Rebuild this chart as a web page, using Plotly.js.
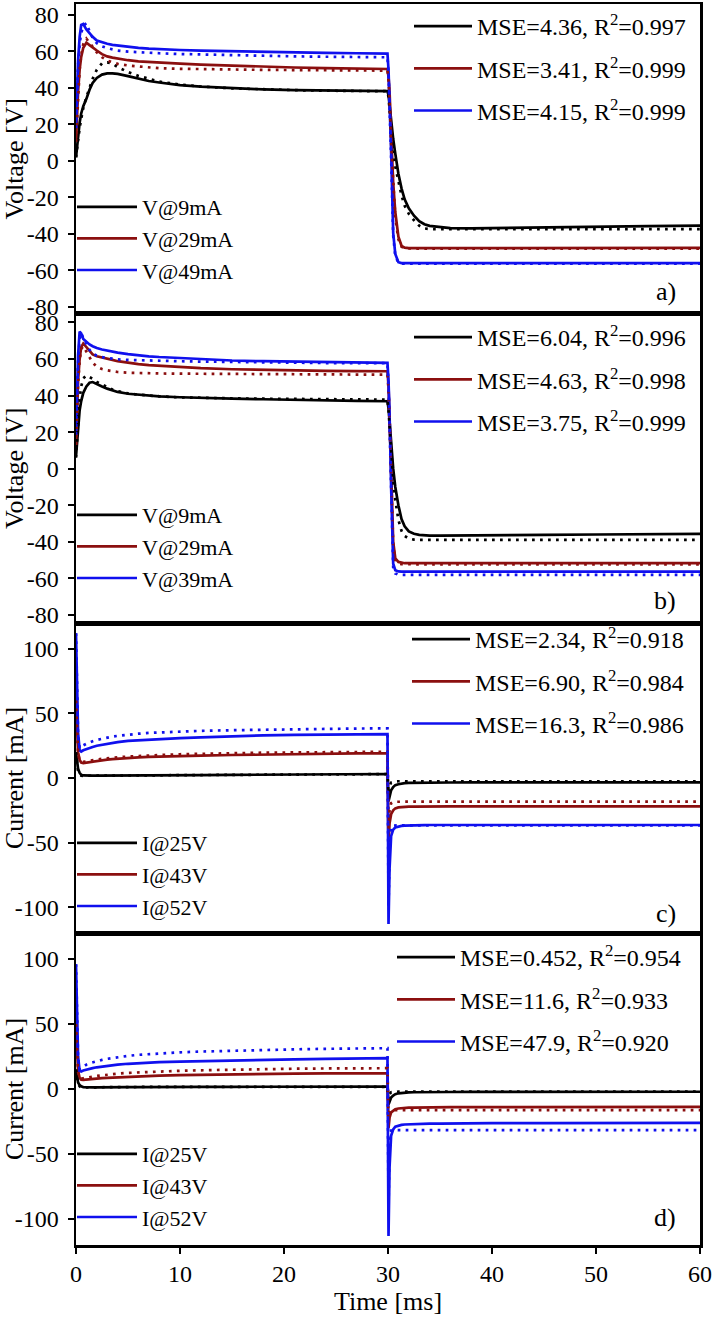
<!DOCTYPE html>
<html><head><meta charset="utf-8">
<script src="https://cdn.plot.ly/plotly-3.0.1.min.js"></script>
<style>html,body{margin:0;padding:0;background:#fff}#chart{width:714px;height:1318px}</style>
</head><body><div id="chart"></div>
<script>
// time grid [ms]
const T = [0,0.1,0.2,0.35,0.5,0.7,1,1.3,1.6,
  2,2.5,3,3.5,4,5,6,7,8,
  10,12,15,18,21,24,27,29.95,
  30.05,30.15,30.3,30.5,30.7,31,31.3,31.6,
  32,32.5,33,33.5,34,35,36,
  38,40,45,50,55,60];

// panel a) voltage, measured (solid) and fitted (dotted)
const aK  = [2,8,14,21,26,30,34,39,42.7, 45.5,47.3,48,48,47.7,46.5,45,43.8,43, 41.5,40.7,39.8,39.2,38.8,38.6,38.4,38.3, 36,30,22,12,4,-7,-15,-21, -26,-30,-33,-34.7,-35.6,-36.4,-36.8, -36.9,-36.8,-36.4,-36,-35.7,-35.4];
const aKf = [2,7,12,18,23,29,35,40,45, 50,53.5,54,53.3,51.5,48.7,46.6,45,43.5, 41.8,40.8,39.8,39.2,38.8,38.5,38.3,38.2, 35,28,18,4,-3,-11,-19,-24.5, -29,-32.5,-35.5,-37,-37.3,-37.4,-37.4, -37.4,-37.4,-37.4,-37.4,-37.4,-37.4];
const aR  = [10.6,25,38,50,57,62,64.8,63.5,62, 60.5,58.5,57.3,56.6,56,55.2,54.6,54.2,53.8, 53.3,52.8,52.2,51.7,51.2,50.9,50.6,50.4, 46,38,15,-12,-28,-41.5,-46.5,-47.5, -47.8,-47.8,-47.8,-47.8,-47.8,-47.8,-47.8, -47.8,-47.8,-47.8,-47.7,-47.7,-47.6];
const aRf = [10.6,24,37,50,58,64,67,65,62.5, 59.5,56.8,55,54,53.2,52.3,51.7,51.2,50.8, 50.5,50.3,50.1,49.9,49.8,49.7,49.6,49.5, 44,34,10,-15,-31,-43,-47,-47.8, -48,-48,-48,-48,-48,-48,-48, -48,-48,-48,-48,-48,-48];
const aB  = [18,38,55,68,74.5,75,72,70,68, 66,65,64.2,63.6,63.2,62.5,62,61.6,61.2, 60.8,60.5,60.1,59.8,59.5,59.2,59,58.8, 50,35,5,-39.5,-51,-55.5,-56,-56, -56,-56,-56,-56,-56,-56,-56, -56,-56,-56,-56,-56,-56];
const aBf = [18,37,52,64,70,74,75.5,71,67.5, 64.5,62.8,61.8,61,60.5,59.9,59.5,59.2,59, 58.6,58.3,58,57.6,57.3,57.1,56.9,56.8, 48,32,2,-41,-52,-55.8,-56.3,-56.3, -56.3,-56.3,-56.3,-56.3,-56.3,-56.3,-56.3, -56.3,-56.3,-56.3,-56.3,-56.3,-56.3];

// panel b) voltage
const bK  = [6.7,14,23,32,37,41.5,45,47,47.4, 46.5,45,43.8,42.8,42,41,40.5,40,39.6, 39.1,38.7,38.3,38,37.6,37.3,37.1,36.9, 33,26,14,0,-10,-20,-27.5,-31.5, -34.3,-35.6,-36.2,-36.5,-36.6,-36.6,-36.6, -36.5,-36.4,-36.2,-36,-35.8,-35.6];
const bKf = [6,15,26,38,45,49.5,51,50.3,49.2, 47.5,46,44.5,43.3,42.5,41.2,40.5,40,39.6, 39,38.7,38.5,38.3,38.1,38,37.9,37.8, 32,22,8,-6,-17,-28,-34,-36.8, -38.2,-38.8,-38.9,-38.9,-38.9,-38.9,-38.9, -38.9,-38.9,-38.9,-38.9,-38.9,-38.9];
const bR  = [13,32,48,60,66.5,68.5,66.5,64.5,62.5, 61.5,60.7,60.2,59.5,58.8,57.8,57.2,56.7,56.3, 55.6,55,54.4,54,53.7,53.5,53.4,53.3, 45,30,0,-40,-49,-51,-51.5,-51.7, -51.7,-51.7,-51.7,-51.7,-51.7,-51.7,-51.7, -51.7,-51.7,-51.7,-51.7,-51.7,-51.7];
const bRf = [13,31,46,59,65.5,67,64,60.5,58, 55.8,54.5,53.8,53.3,52.9,52.5,52.3,52.2,52.1, 52,51.9,51.8,51.7,51.6,51.6,51.5,51.5, 43,27,-3,-42,-50,-51.8,-52.2,-52.3, -52.3,-52.3,-52.3,-52.3,-52.3,-52.3,-52.3, -52.3,-52.3,-52.3,-52.3,-52.3,-52.3];
const bB  = [18.6,42,62,75,74,71,69.3,68,67, 66,65.2,64.5,64,63.5,62.7,62,61.5,61.1, 60.5,60,59.2,58.8,58.5,58.2,58,57.9, 48,30,-10,-52,-55.5,-56.2,-56.3,-56.3, -56.3,-56.3,-56.3,-56.3,-56.3,-56.3,-56.3, -56.3,-56.3,-56.3,-56.3,-56.3,-56.3];
const bBf = [18.6,40,58,71,74.3,71.5,68,65,63, 61.8,61,60.5,60.1,59.8,59.5,59.3,59.1,59, 58.8,58.6,58.3,58.1,57.9,57.8,57.7,57.7, 46,26,-14,-54,-57.3,-58,-58.1,-58.1, -58.1,-58.1,-58.1,-58.1,-58.1,-58.1,-58.1, -58.1,-58.1,-58.1,-58.1,-58.1,-58.1];

// panel c) current
const cK  = [20,12,7,4,2.5,2,1.8,1.8,1.8, 1.8,1.8,1.8,1.8,1.8,1.9,1.9,2,2, 2.1,2.2,2.4,2.6,2.8,2.9,3,3.1, -18,-14,-9.5,-7,-5.5,-4.8,-4.3,-4, -3.8,-3.7,-3.6,-3.6,-3.5,-3.5,-3.5, -3.4,-3.4,-3.4,-3.4,-3.4,-3.4];
const cKf = [20,10,5,2.5,1.8,1.7,1.7,1.7,1.7, 1.7,1.8,1.8,1.8,1.9,1.9,2,2,2.1, 2.2,2.3,2.5,2.7,2.8,2.9,3,3, -12,-6,-3.5,-2.8,-2.6,-2.5,-2.5,-2.5, -2.5,-2.5,-2.5,-2.5,-2.5,-2.5,-2.5, -2.5,-2.5,-2.5,-2.5,-2.5,-2.5];
const cR  = [60,35,20,14,12,11.6,12,12.4,12.8, 13.3,13.8,14.2,14.6,15,15.6,16,16.3,16.6, 17,17.4,17.8,18.2,18.5,18.8,19,19.1, -50,-35,-28,-25,-23.5,-22.8,-22.5,-22.4, -22.2,-22.1,-22,-22,-22,-21.9,-21.9, -21.9,-21.9,-21.9,-21.9,-21.9,-21.9];
const cRf = [60,33,19,13.5,12.5,12.5,13,13.4,13.8, 14.3,14.8,15.3,15.7,16,16.6,17.1,17.5,17.8, 18.4,18.8,19.3,19.6,19.8,20,20.2,20.3, -40,-25,-19.5,-18.6,-18.4,-18.3,-18.3,-18.3, -18.3,-18.3,-18.3,-18.3,-18.3,-18.3,-18.3, -18.3,-18.3,-18.3,-18.3,-18.3,-18.3];
const cB  = [112,70,35,21.5,20.5,21.5,22.5,23.3,24, 25,25.8,26.5,27.2,27.8,28.8,29.3,29.8,30.2, 30.8,31.5,32.4,33,33.4,33.7,34,34, -113,-70,-45,-40,-38.3,-37.5,-37.1,-36.9, -36.7,-36.6,-36.5,-36.5,-36.4,-36.4,-36.4, -36.4,-36.4,-36.4,-36.4,-36.4,-36.4];
const cBf = [112,68,33,23,24,25.3,26.5,27.6,28.5, 29.5,30.5,31.3,32,32.6,33.6,34.3,34.9,35.3, 36,36.5,37,37.4,37.8,38.1,38.3,38.4, -100,-55,-38,-36.8,-36.6,-36.6,-36.6,-36.6, -36.6,-36.6,-36.6,-36.6,-36.6,-36.6,-36.6, -36.6,-36.6,-36.6,-36.6,-36.6,-36.6];

// panel d) current
const dK  = [15,9,5,3,2,1.5,1.3,1.3,1.3, 1.3,1.4,1.4,1.4,1.5,1.5,1.5,1.6,1.6, 1.6,1.7,1.7,1.7,1.8,1.8,1.8,1.8, -12,-9,-6.5,-5,-4,-3.3,-3,-2.8, -2.6,-2.5,-2.4,-2.4,-2.4,-2.3,-2.3, -2.2,-2.2,-2.1,-2.1,-2.1,-2.1];
const dKf = [15,8,4,2,1.2,1.2,1.3,1.3,1.3, 1.3,1.4,1.4,1.4,1.5,1.5,1.5,1.6,1.6, 1.6,1.7,1.7,1.7,1.7,1.7,1.7,1.7, -8,-4,-2.5,-2.2,-2.1,-2,-2,-2, -2,-2,-2,-2,-2,-2,-2, -2,-2,-2,-2,-2,-2];
const dR  = [50,28,14,8.5,7.2,7,7.3,7.6,7.8, 8.1,8.4,8.6,8.8,9,9.5,9.8,10.1,10.3, 10.7,11,11.3,11.6,11.8,12,12.1,12.1, -30,-22,-18,-16.5,-15.5,-15,-14.7,-14.5, -14.4,-14.3,-14.2,-14.1,-14.1,-14,-14, -13.9,-13.9,-13.8,-13.8,-13.7,-13.7];
const dRf = [50,27,13,8.5,8,8.3,8.8,9.2,9.6, 10,10.5,11,11.4,11.8,12.4,12.8,13.2,13.5, 14,14.4,14.9,15.3,15.6,15.8,16,16, -22,-17,-16.3,-16.2,-16.2,-16.2,-16.2,-16.2, -16.2,-16.2,-16.2,-16.2,-16.2,-16.2,-16.2, -16.2,-16.2,-16.2,-16.2,-16.2,-16.2];
const dB  = [96,55,25,14,13.5,14.2,15,15.6,16.1, 16.7,17.3,17.8,18.3,18.7,19.4,19.9,20.3,20.6, 21.1,21.5,21.9,22.4,22.8,23.2,23.5,23.7, -113,-60,-36,-31,-29,-28,-27.6,-27.3, -27.1,-27,-26.8,-26.7,-26.6,-26.6,-26.5, -26.4,-26.3,-26.2,-26.1,-26,-26];
const dBf = [96,53,24,15,16,17.5,18.8,19.8,20.6, 21.5,22.4,23.2,23.9,24.5,25.5,26.3,26.9,27.4, 28.2,28.8,29.5,30,30.5,30.9,31.2,31.4, -90,-40,-32,-31.7,-31.7,-31.7,-31.7,-31.7, -31.7,-31.7,-31.7,-31.7,-31.7,-31.7,-31.7, -31.7,-31.7,-31.7,-31.7,-31.7,-31.7];

// legend texts
const labelsA = ['V@9mA','V@29mA','V@49mA'];
const labelsB = ['V@9mA','V@29mA','V@39mA'];
const labelsC = ['I@25V','I@43V','I@52V'];
const labelsD = ['I@25V','I@43V','I@52V'];
const mseA = ['MSE=4.36, R<sup>2</sup>=0.997','MSE=3.41, R<sup>2</sup>=0.999','MSE=4.15, R<sup>2</sup>=0.999'];
const mseB = ['MSE=6.04, R<sup>2</sup>=0.996','MSE=4.63, R<sup>2</sup>=0.998','MSE=3.75, R<sup>2</sup>=0.999'];
const mseC = ['MSE=2.34, R<sup>2</sup>=0.918','MSE=6.90, R<sup>2</sup>=0.984','MSE=16.3, R<sup>2</sup>=0.986'];
const mseD = ['MSE=0.452, R<sup>2</sup>=0.954','MSE=11.6, R<sup>2</sup>=0.933','MSE=47.9, R<sup>2</sup>=0.920'];
const panelTags = ['a)','b)','c)','d)'];
const xTicks = [0,10,20,30,40,50,60];
const vTicks = [-80,-60,-40,-20,0,20,40,60,80];
const iTicks = [-100,-50,0,50,100];

const COLORS = ['#000000','#8b0f0f','#1010ee'];
const F = 'Liberation Serif, Times New Roman, serif';

const panels = [
  {solid:[aK,aR,aB], fit:[aKf,aRf,aBf], labels:labelsA, mse:mseA},
  {solid:[bK,bR,bB], fit:[bKf,bRf,bBf], labels:labelsB, mse:mseB},
  {solid:[cK,cR,cB], fit:[cKf,cRf,cBf], labels:labelsC, mse:mseC},
  {solid:[dK,dR,dB], fit:[dKf,dRf,dBf], labels:labelsD, mse:mseD}
];

const traces = [];
panels.forEach((p, i) => {
  const sfx = i === 0 ? '' : String(i + 1);
  const xa = 'x' + sfx, ya = 'y' + sfx;
  const lgLab = 'legend' + (i === 0 ? '' : String(2 * i + 1));
  const lgMse = 'legend' + String(2 * i + 2);
  p.solid.forEach((ys, k) => {
    traces.push({type:'scatter', mode:'lines', x:T, y:ys, xaxis:xa, yaxis:ya,
      line:{color:COLORS[k], width:2.7}, name:p.labels[k], legend:lgLab, showlegend:true});
  });
  p.fit.forEach((ys, k) => {
    traces.push({type:'scatter', mode:'lines', x:T, y:ys, xaxis:xa, yaxis:ya,
      line:{color:COLORS[k], width:2.7, dash:'2.7px,5.3px'}, showlegend:false});
  });
  p.mse.forEach((txt, k) => {
    traces.push({type:'scatter', mode:'lines', x:[null], y:[null], xaxis:xa, yaxis:ya,
      line:{color:COLORS[k], width:2.7}, name:txt, legend:lgMse, legendgroup:'g'+i+'_'+k, showlegend:true});
  });
});

const H = 1241, BOT = 1245;
const py = px => (BOT - px) / H;
const domains = [[py(313.5), 1], [py(623), py(313.5)], [py(933), py(623)], [0, py(933)]];
const yRanges = [[-83.6, 86], [-84.4, 84.9], [-120, 120], [-120, 120]];
const yTitles = ['Voltage [V]','Voltage [V]','Current [mA]','Current [mA]'];

const layout = {
  width:714, height:1318,
  margin:{l:76, r:14, t:4, b:73},
  paper_bgcolor:'#fff', plot_bgcolor:'#fff',
  font:{family:F, size:22, color:'#000'},
  annotations:[]
};

for (let i = 0; i < 4; i++) {
  const sfx = i === 0 ? '' : String(i + 1);
  const last = i === 3;
  layout['xaxis' + sfx] = {
    domain:[0,1], range:[0,60], anchor:'y' + sfx,
    showline:true, linewidth:2.5, linecolor:'#000', mirror:true,
    showgrid:false, zeroline:false,
    tickvals:xTicks, ticktext:xTicks.map(String),
    ticks:last ? 'outside' : '', ticklen:6, tickwidth:2, tickcolor:'#000',
    showticklabels:last, tickfont:{family:F, size:24, color:'#000'},
    title:last ? {text:'Time [ms]', font:{family:F, size:26, color:'#000'}, standoff:0} : {text:''},
    matches:i === 0 ? undefined : 'x'
  };
  const tv = i < 2 ? vTicks : iTicks;
  layout['yaxis' + sfx] = {
    domain:domains[i], range:yRanges[i], anchor:'x' + sfx,
    showline:true, linewidth:2.5, linecolor:'#000', mirror:true,
    showgrid:false, zeroline:false,
    tickvals:tv, ticktext:tv.map(String),
    ticks:'outside', ticklen:6, tickwidth:2, tickcolor:'#000',
    tickfont:{family:F, size:24, color:'#000'}, ticklabelstandoff:4,
    title:{text:yTitles[i], font:{family:F, size:26, color:'#000'}, standoff:2}
  };
}

const labLegY = [py(186), py(494), py(822), py(1133)];
const mseLegY = [py(4), py(315), py(617), py(935)];
const mseLegX = [409, 409, 407, 392].map(v => (v - 76) / 624);
function legend(x, y, grouped, size, iw) {
  return {x:x, y:y, xref:'paper', yref:'paper', xanchor:'left', yanchor:'top',
    bgcolor:'rgba(0,0,0,0)', borderwidth:0, itemwidth:iw,
    font:{family:F, size:size, color:'#000'},
    traceorder:grouped ? 'grouped' : 'normal', tracegroupgap:grouped ? 8 : 0,
    itemclick:false, itemdoubleclick:false};
}
for (let i = 0; i < 4; i++) {
  const lab = 'legend' + (i === 0 ? '' : String(2 * i + 1));
  const mse = 'legend' + String(2 * i + 2);
  layout[lab] = legend((72 - 76) / 624, labLegY[i], false, 22, 60);
  layout[mse] = legend(mseLegX[i], mseLegY[i], true, 24, 58);
}

const tagY = [py(291), py(600), py(913), py(1217)];
panelTags.forEach((t, i) => {
  layout.annotations.push({text:t, xref:'paper', yref:'paper', x:0.965, y:tagY[i],
    xanchor:'right', yanchor:'middle', showarrow:false, font:{family:F, size:26, color:'#000'}});
});

Plotly.newPlot('chart', traces, layout, {displayModeBar:false, staticPlot:true});
</script>
</body></html>
